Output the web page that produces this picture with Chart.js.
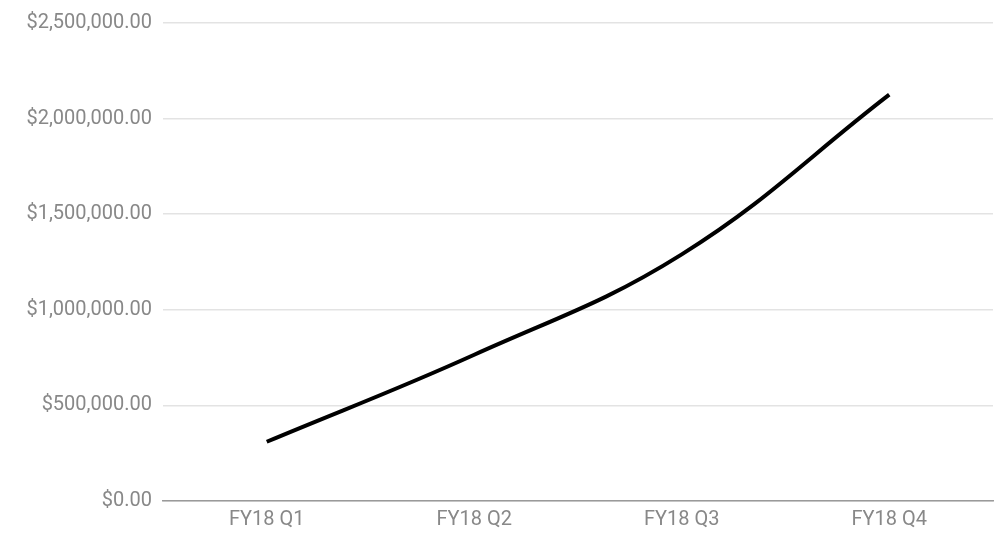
<!DOCTYPE html>
<html>
<head>
<meta charset="utf-8">
<script src="https://cdn.jsdelivr.net/npm/chart.js@4"></script>
<style>
  html, body { margin: 0; padding: 0; background: #ffffff; }
  #wrap { width: 1000px; height: 534px; position: relative; }
</style>
</head>
<body>
<div id="wrap"><canvas id="revenueChart"></canvas></div>
<script>
/* ==========================================
   DATA
========================================== */

const quarters = ["FY18 Q1", "FY18 Q2", "FY18 Q3", "FY18 Q4"];

const revenue = [310000, 765000, 1290000, 2125000];

const yTicks = [0, 500000, 1000000, 1500000, 2000000, 2500000];

/* ==========================================
   CHART
========================================== */

Chart.defaults.font.family = "Roboto";
Chart.defaults.font.size = 20;
Chart.defaults.color = "#888888";

const money = v => "$" + Number(v).toLocaleString("en-US", {
    minimumFractionDigits: 2,
    maximumFractionDigits: 2
});

new Chart(document.getElementById("revenueChart"), {

    type: "line",

    data: {
        labels: quarters,
        datasets: [{
            data: revenue,
            borderColor: "#000000",
            borderWidth: 4,
            pointRadius: 0,
            tension: 0.4,
            fill: false
        }]
    },

    options: {
        responsive: true,
        maintainAspectRatio: false,
        animation: false,
        layout: {
            padding: { top: 10, right: 7, bottom: 0, left: 0 }
        },
        plugins: {
            legend: { display: false },
            tooltip: { enabled: false }
        },
        scales: {
            x: {
                offset: true,
                afterFit: scale => { scale.height = 33; },
                grid: { display: false, drawTicks: false },
                border: { display: true, color: "#9a9a9a", width: 1.5 },
                ticks: { padding: 7, maxRotation: 0 }
            },
            y: {
                min: yTicks[0],
                max: yTicks[yTicks.length - 1],
                afterFit: scale => { scale.width = 163; },
                afterBuildTicks: scale => {
                    scale.ticks = yTicks.map(v => ({ value: v }));
                },
                grid: { color: "#e3e3e3", lineWidth: 1.5, drawTicks: false },
                border: { display: false },
                ticks: {
                    padding: 11,
                    callback: v => money(v)
                }
            }
        }
    }

});
</script>
</body>
</html>
